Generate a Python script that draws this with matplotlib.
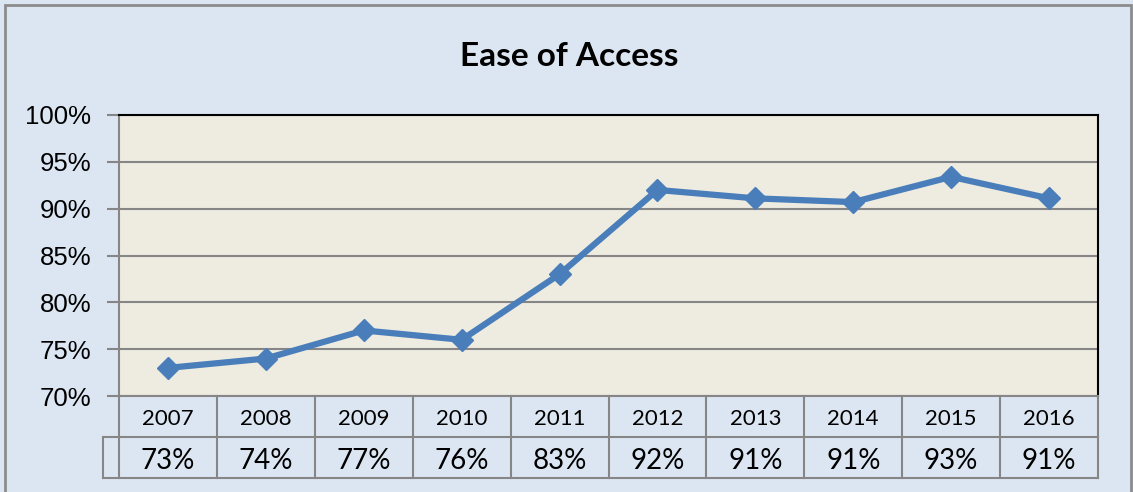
import matplotlib.pyplot as plt
from matplotlib.patches import Rectangle
from matplotlib.ticker import FuncFormatter

years = ['2007', '2008', '2009', '2010', '2011', '2012', '2013', '2014', '2015', '2016']
access = [73.0, 74.0, 77.0, 76.0, 83.0, 92.0, 91.1, 90.7, 93.4, 91.1]
y_ticks = [70, 75, 80, 85, 90, 95, 100]

fig = plt.figure(figsize=(11.33, 4.92), dpi=100)
fig.patch.set_facecolor('#dce6f2')

# outer chart frame
fig.patches.append(Rectangle((5 / 1133, -0.1), 1126 / 1133, 1.1 - 5 / 492,
                             transform=fig.transFigure, fill=False,
                             edgecolor='#8c8c8c', linewidth=2))

ax = fig.add_axes([119 / 1133, 96 / 492, 979 / 1133, 281 / 492])
ax.set_facecolor('#eeece1')

x = list(range(len(years)))
ax.plot(x, access, color='#4a7ebb', linewidth=4.5, marker='D', markersize=11,
        markerfacecolor='#4a7ebb', markeredgecolor='#4a7ebb', zorder=3)

ax.set_xlim(-0.5, len(years) - 0.5)
ax.set_ylim(70, 100)
ax.set_yticks(y_ticks)
ax.yaxis.set_major_formatter(FuncFormatter(lambda v, p: f'{v:.0f}%'))
ax.set_xticks([])
ax.grid(axis='y', color='#868686', linewidth=1.5)
ax.set_axisbelow(True)
ax.tick_params(axis='y', length=9, width=1.5, color='#868686', pad=11,
               labelsize=18.5)
for lbl in ax.get_yticklabels():
    lbl.set_fontfamily('Liberation Sans')

for side in ('top', 'right'):
    ax.spines[side].set_color('black')
    ax.spines[side].set_linewidth(1.5)
for side in ('left', 'bottom'):
    ax.spines[side].set_color('#868686')
    ax.spines[side].set_linewidth(1.5)

# data table under the plot
row_h = 41 / 281
stub = -16 / 979
line_kw = dict(transform=ax.transAxes, clip_on=False, color='#868686', linewidth=1.5)
ax.plot([stub, 1], [-row_h, -row_h], **line_kw)
ax.plot([stub, 1], [-2 * row_h, -2 * row_h], **line_kw)
ax.plot([stub, stub], [-row_h, -2 * row_h], **line_kw)
for i in range(len(years) + 1):
    ax.plot([i / len(years)] * 2, [0, -2 * row_h], **line_kw)

for i, (yr, v) in enumerate(zip(years, access)):
    cx = (i + 0.5) / len(years)
    ax.text(cx, -row_h * 0.55, yr, transform=ax.transAxes, ha='center',
            va='center', fontsize=16, family='Lato')
    ax.text(cx, -row_h * 1.58, f'{v:.0f}%', transform=ax.transAxes, ha='center',
            va='center', fontsize=20, family='Lato')

fig.text(569 / 1133, 1 - 56 / 492, 'Ease of Access', ha='center', va='center',
         fontsize=24, fontweight='bold', family='Lato')

fig.savefig('out.png', dpi=100, facecolor=fig.get_facecolor())
